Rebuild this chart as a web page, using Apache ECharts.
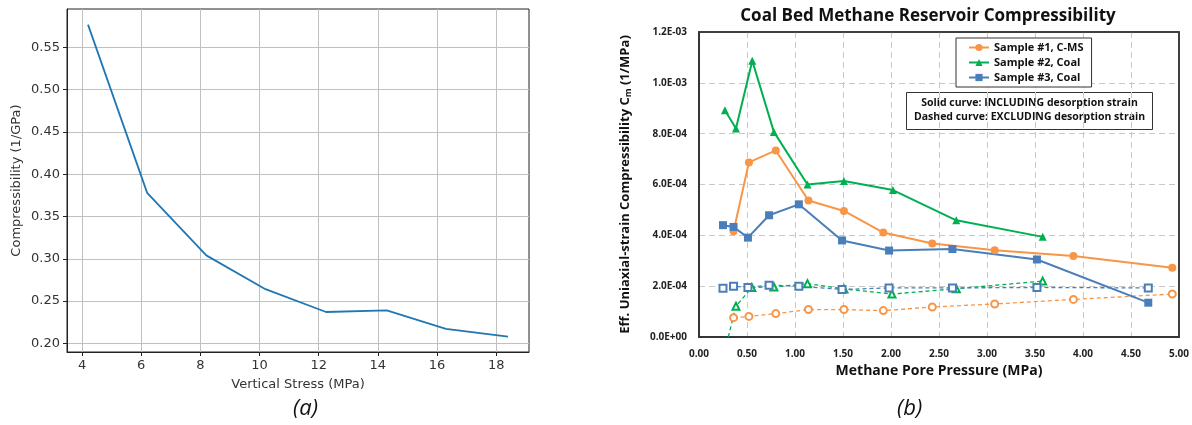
<!DOCTYPE html>
<html>
<head>
<meta charset="utf-8">
<script src="https://cdn.jsdelivr.net/npm/echarts@6/dist/echarts.min.js"></script>
<style>
html,body{margin:0;padding:0;background:#fff;}
#chart{width:1192px;height:425px;}
</style>
</head>
<body>
<div id="chart"></div>
<script>
// ---- Panel (a) ----
const stressX = [4.2, 6.2, 8.2, 10.2, 12.25, 14.3, 16.3, 18.4];
const compressA = [0.577, 0.378, 0.304, 0.264, 0.237, 0.239, 0.217, 0.208];
const ticksAX = [4, 6, 8, 10, 12, 14, 16, 18];
const ticksAY = [0.20, 0.25, 0.30, 0.35, 0.40, 0.45, 0.50, 0.55];

// ---- Panel (b) ----
const s1P = [0.36, 0.52, 0.80, 1.14, 1.51, 1.92, 2.43, 3.08, 3.90, 4.93];
const s1Solid = [4.16e-4, 6.87e-4, 7.34e-4, 5.37e-4, 4.96e-4, 4.11e-4, 3.68e-4, 3.41e-4, 3.19e-4, 2.72e-4];
const s1Dashed = [0.76e-4, 0.81e-4, 0.92e-4, 1.08e-4, 1.08e-4, 1.04e-4, 1.18e-4, 1.30e-4, 1.48e-4, 1.69e-4];

const s2P = [0.27, 0.385, 0.555, 0.78, 1.13, 1.51, 2.02, 2.68, 3.58];
const s2Solid = [8.92e-4, 8.20e-4, 10.87e-4, 8.07e-4, 6.00e-4, 6.14e-4, 5.78e-4, 4.59e-4, 3.94e-4];
const s2DP = [0.305, 0.385, 0.55, 0.78, 1.13, 1.51, 2.01, 2.68, 3.58];
const s2Dashed = [0.0, 1.21e-4, 1.95e-4, 1.97e-4, 2.10e-4, 1.89e-4, 1.69e-4, 1.90e-4, 2.20e-4];

const s3P = [0.25, 0.36, 0.51, 0.73, 1.04, 1.49, 1.98, 2.64, 3.52, 4.68];
const s3Solid = [4.40e-4, 4.33e-4, 3.91e-4, 4.79e-4, 5.22e-4, 3.80e-4, 3.40e-4, 3.46e-4, 3.05e-4, 1.35e-4];
const s3Dashed = [1.92e-4, 2.00e-4, 1.95e-4, 2.04e-4, 2.00e-4, 1.87e-4, 1.93e-4, 1.93e-4, 1.95e-4, 1.93e-4];

const seriesNames = ['Sample #1, C-MS', 'Sample #2, Coal', 'Sample #3, Coal'];
const noteLines = ['Solid curve: INCLUDING desorption strain', 'Dashed curve: EXCLUDING desorption strain'];

const ORANGE = '#F79646', GREEN = '#00B050', BLUE = '#4A7EBB';
const pairs = (xs, ys) => xs.map((x, i) => [x, ys[i]]);

function sciFmt(v) {
  if (v === 0) return '0.0E+00';
  const e = Math.floor(Math.log10(Math.abs(v)) + 1e-9);
  const m = v / Math.pow(10, e);
  const es = (e < 0 ? '-' : '+') + String(Math.abs(e)).padStart(2, '0');
  return m.toFixed(1) + 'E' + es;
}

const chart = echarts.init(document.getElementById('chart'), null, {renderer: 'canvas'});
const fA = 'DejaVu Sans';
const fB = 'Open Sans';

const solid = (name, xs, ys, color, symbol) => ({
  name, type: 'line', xAxisIndex: 1, yAxisIndex: 1,
  data: pairs(xs, ys), symbol, symbolSize: 8,
  lineStyle: {color, width: 2}, itemStyle: {color},
  z: 3, animation: false
});
const dashed = (name, xs, ys, color, symbol) => ({
  name, type: 'line', xAxisIndex: 1, yAxisIndex: 1,
  data: pairs(xs, ys), symbol, symbolSize: 7,
  lineStyle: {color, width: 1.3, type: [4, 3]}, itemStyle: {color, borderWidth: 1},
  z: 2, animation: false
});

const s2DashedSeries = dashed('Sample #2 dashed', s2DP, s2Dashed, GREEN, 'emptyTriangle');
s2DashedSeries.data = s2DashedSeries.data.map((d, i) => i === 0 ? {value: d, symbol: 'none'} : d);

const option = {
  backgroundColor: '#fff',
  animation: false,
  title: {
    text: 'Coal Bed Methane Reservoir Compressibility',
    left: 923, top: 3, textAlign: 'center',
    textStyle: {fontFamily: fB, fontWeight: 'bold', fontSize: 17, color: '#111'}
  },
  legend: {
    data: seriesNames.map(n => ({name: n})),
    orient: 'vertical', left: 956, top: 38,
    backgroundColor: '#fff', borderColor: '#333', borderWidth: 1,
    padding: [4, 8, 4, 12], itemGap: 4, itemWidth: 20, itemHeight: 9,
    textStyle: {fontFamily: fB, fontWeight: 'bold', fontSize: 11, color: '#111'},
    selectedMode: false
  },
  grid: [
    {left: 67, top: 9, width: 462, height: 343, show: true, borderColor: '#222', borderWidth: 1, containLabel: false},
    {left: 699, top: 32, width: 480, height: 305, show: true, borderColor: '#333', borderWidth: 1.5, containLabel: false, z: 1}
  ],
  xAxis: [
    {
      type: 'value', gridIndex: 0, min: 3.49, max: 19.11,
      name: 'Vertical Stress (MPa)', nameLocation: 'middle', nameGap: 26,
      nameTextStyle: {fontFamily: fA, fontSize: 13, color: '#333'},
      axisLine: {show: true, lineStyle: {color: '#222', width: 1}},
      axisTick: {show: true, inside: false, length: 4, customValues: ticksAX, lineStyle: {color: '#222'}},
      axisLabel: {customValues: ticksAX, margin: 7, fontFamily: fA, fontSize: 13, color: '#333'},
      splitLine: {show: true, lineStyle: {color: '#c0c0c0', width: 1}}
    },
    {
      type: 'value', gridIndex: 1, min: 0, max: 5, interval: 0.5,
      name: 'Methane Pore Pressure (MPa)', nameLocation: 'middle', nameGap: 27,
      nameTextStyle: {fontFamily: fB, fontWeight: 'bold', fontSize: 14, color: '#111'},
      axisLine: {show: true, lineStyle: {color: '#333', width: 1.5}},
      axisTick: {show: false},
      axisLabel: {margin: 12, fontFamily: fB, fontWeight: 'bold', fontSize: 10, color: '#222',
        formatter: v => v.toFixed(2)},
      splitLine: {show: true, showMinLine: false, showMaxLine: false,
        lineStyle: {color: '#c8c8c8', width: 1, type: [6, 4]}}
    }
  ],
  yAxis: [
    {
      type: 'value', gridIndex: 0, min: 0.1897, max: 0.5955,
      name: 'Compressibility (1/GPa)', nameLocation: 'middle', nameGap: 44,
      nameTextStyle: {fontFamily: fA, fontSize: 13, color: '#333'},
      axisLine: {show: true, lineStyle: {color: '#222', width: 1}},
      axisTick: {show: true, inside: false, length: 4, customValues: ticksAY, lineStyle: {color: '#222'}},
      axisLabel: {customValues: ticksAY, margin: 7, fontFamily: fA, fontSize: 13, color: '#333',
        formatter: v => v.toFixed(2)},
      splitLine: {show: true, lineStyle: {color: '#c0c0c0', width: 1}}
    },
    {
      type: 'value', gridIndex: 1, min: 0, max: 1.2e-3, interval: 0.2e-3,
      name: 'Eff. Uniaxial-strain Compressibility C{sub|m} (1/MPa)', nameLocation: 'middle', nameGap: 66,
      nameTextStyle: {fontFamily: fB, fontWeight: 'bold', fontSize: 13, color: '#111',
        rich: {sub: {fontFamily: fB, fontWeight: 'bold', fontSize: 9, color: '#111', verticalAlign: 'bottom', padding: [6, 0, 0, 0]}}},
      axisLine: {show: true, lineStyle: {color: '#333', width: 1.5}},
      axisTick: {show: false},
      axisLabel: {margin: 12, fontFamily: fB, fontWeight: 'bold', fontSize: 10, color: '#222',
        formatter: v => sciFmt(v)},
      splitLine: {show: true, showMinLine: false, showMaxLine: false,
        lineStyle: {color: '#c8c8c8', width: 1, type: [6, 4]}}
    }
  ],
  series: [
    {
      name: 'Compressibility', type: 'line', xAxisIndex: 0, yAxisIndex: 0,
      data: pairs(stressX, compressA), symbol: 'none',
      lineStyle: {color: '#1f77b4', width: 1.8}, itemStyle: {color: '#1f77b4'}
    },
    dashed('Sample #1 dashed', s1P, s1Dashed, ORANGE, 'emptyCircle'),
    s2DashedSeries,
    dashed('Sample #3 dashed', s3P, s3Dashed, BLUE, 'emptyRect'),
    solid(seriesNames[0], s1P, s1Solid, ORANGE, 'circle'),
    solid(seriesNames[1], s2P, s2Solid, GREEN, 'triangle'),
    solid(seriesNames[2], s3P, s3Solid, BLUE, 'rect')
  ],
  graphic: [
    {
      type: 'rect', shape: {x: 699, y: 32, width: 480, height: 305}, z: 0, silent: true,
      style: {fill: 'none', stroke: '#333', lineWidth: 1.5}
    },
    {
      type: 'group', left: 906, top: 92, z: 100,
      children: [
        {type: 'rect', shape: {x: 0, y: 0, width: 246, height: 37},
          style: {fill: '#fff', stroke: '#333', lineWidth: 1}},
        {type: 'text', x: 123, y: 11, style: {text: noteLines[0], align: 'center', verticalAlign: 'middle',
          font: 'bold 10.5px "Open Sans"', fill: '#111'}},
        {type: 'text', x: 123, y: 25, style: {text: noteLines[1], align: 'center', verticalAlign: 'middle',
          font: 'bold 10.5px "Open Sans"', fill: '#111'}}
      ]
    },
    {type: 'text', left: 293, top: 398, z: 100,
      style: {text: '(a)', font: 'italic 22px "Open Sans"', fill: '#111'}},
    {type: 'text', left: 897, top: 398, z: 100,
      style: {text: '(b)', font: 'italic 22px "Open Sans"', fill: '#111'}}
  ]
};
chart.setOption(option);
</script>
</body>
</html>
